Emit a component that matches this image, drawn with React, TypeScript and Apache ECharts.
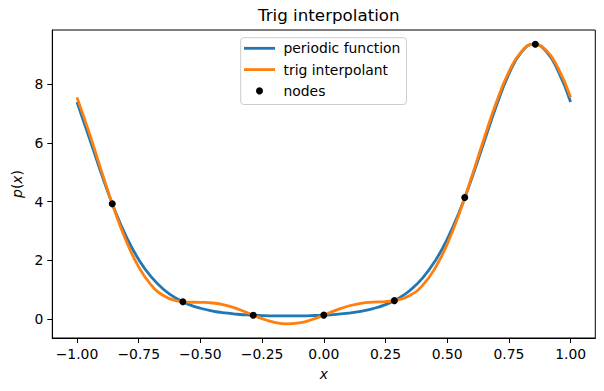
import React, { useEffect, useRef } from "react";
import * as echarts from "echarts";

// sample positions along x
const xSamples = [
  -1, -0.95, -0.9, -0.85, -0.8, -0.75, -0.7, -0.65, -0.6, -0.55, -0.5, -0.45, -0.4, -0.35,
  -0.3, -0.25, -0.2, -0.15, -0.1, -0.05, 0, 0.05, 0.1, 0.15, 0.2, 0.25, 0.3, 0.35, 0.4,
  0.45, 0.5, 0.55, 0.6, 0.65, 0.7, 0.75, 0.8, 0.85, 0.9, 0.95, 1,
];

// periodic function values
const periodicValues = [
  7.389, 6.166, 4.919, 3.774, 2.802, 2.028, 1.443, 1.017, 0.717, 0.509, 0.368, 0.272, 0.208,
  0.165, 0.137, 0.12, 0.11, 0.107, 0.11, 0.119, 0.135, 0.162, 0.203, 0.265, 0.357, 0.493,
  0.693, 0.983, 1.395, 1.964, 2.718, 3.672, 4.802, 6.043, 7.277, 8.342, 9.077, 9.356, 9.126,
  8.43, 7.389,
];

// trig interpolant values
const interpValues = [
  7.546, 6.33, 5.02, 3.755, 2.648, 1.776, 1.166, 0.801, 0.629, 0.576, 0.569, 0.547, 0.475,
  0.346, 0.181, 0.015, -0.111, -0.165, -0.133, -0.023, 0.135, 0.304, 0.446, 0.537, 0.578,
  0.597, 0.651, 0.81, 1.148, 1.721, 2.552, 3.621, 4.861, 6.164, 7.395, 8.414, 9.096, 9.355,
  9.158, 8.529, 7.546,
];

// interpolation nodes
const nodeX = [-0.857, -0.571, -0.286, 0, 0.286, 0.571, 0.857];
const nodeY = [3.928, 0.589, 0.132, 0.135, 0.628, 4.137, 9.355];

// tick labels
const xTicks = [-1, -0.75, -0.5, -0.25, 0, 0.25, 0.5, 0.75, 1];
const yTicks = [0, 2, 4, 6, 8];

const FONT = "DejaVu Sans";
const LINE_ICON = "path://M0,0L31,0L31,2.8L0,2.8Z";

function fmtX(v: number) {
  const s = Math.abs(v).toFixed(2);
  return v < 0 ? "\u2212" + s : s;
}
function fmtY(v: number) {
  const s = String(Math.abs(v));
  return v < 0 ? "\u2212" + s : s;
}

export default function App() {
  const ref = useRef<HTMLDivElement>(null);
  useEffect(() => {
    if (!ref.current) return;
    const chart = echarts.init(ref.current, undefined, { renderer: "svg" });
    const italic = { fontStyle: "italic", fontSize: 13.9, fontFamily: FONT, color: "#000" };
    const option: any = {
      animation: false,
      backgroundColor: "#fff",
      textStyle: { fontFamily: FONT },
      title: {
        text: "Trig interpolation",
        left: 323.8,
        top: 1,
        textAlign: "center",
        textStyle: { fontSize: 16.7, fontWeight: "normal", color: "#000", fontFamily: FONT },
      },
      legend: {
        orient: "vertical",
        align: "left",
        left: 240.7,
        top: 37.7,
        padding: [3.6, 6, 6.6, 3.3],
        itemWidth: 31,
        itemHeight: 7,
        itemGap: 7.3,
        borderColor: "#cccccc",
        borderWidth: 1,
        borderRadius: 3,
        backgroundColor: "rgba(255,255,255,0.8)",
        selectedMode: false,
        itemStyle: { borderWidth: 0, opacity: 1 },
        textStyle: {
          fontSize: 13.9,
          color: "#000",
          fontFamily: FONT,
          lineHeight: 14,
          padding: [0, 0, 0, 3.5],
        },
        data: [
          { name: "periodic function", icon: LINE_ICON },
          { name: "trig interpolant", icon: LINE_ICON },
          { name: "nodes", icon: "circle" },
        ],
      },
      grid: {
        left: 52.3,
        right: 8.7,
        top: 30,
        bottom: 53,
        show: true,
        borderColor: "#000",
        borderWidth: 1,
        backgroundColor: "transparent",
      },
      xAxis: {
        type: "value",
        min: -1.1,
        max: 1.1,
        name: "{i|x}",
        nameLocation: "middle",
        nameGap: 29,
        nameTextStyle: { fontSize: 13.9, color: "#000", fontFamily: FONT, rich: { i: italic } },
        axisLine: { show: true, onZero: false, lineStyle: { color: "#000", width: 1 } },
        axisTick: {
          show: true,
          inside: false,
          length: 5,
          lineStyle: { color: "#000", width: 1 },
          customValues: xTicks,
        },
        axisLabel: {
          show: true,
          margin: 9,
          fontSize: 13.9,
          color: "#000",
          fontFamily: FONT,
          customValues: xTicks,
          formatter: fmtX,
        },
        splitLine: { show: false },
      },
      yAxis: {
        type: "value",
        min: -0.644,
        max: 9.84,
        name: "{i|p}({i|x})",
        nameLocation: "middle",
        nameGap: 28,
        nameTextStyle: { fontSize: 13.9, color: "#000", fontFamily: FONT, rich: { i: italic } },
        axisLine: { show: true, onZero: false, lineStyle: { color: "#000", width: 1 } },
        axisTick: {
          show: true,
          inside: false,
          length: 5,
          lineStyle: { color: "#000", width: 1 },
          customValues: yTicks,
        },
        axisLabel: {
          show: true,
          margin: 9,
          fontSize: 13.9,
          color: "#000",
          fontFamily: FONT,
          customValues: yTicks,
          formatter: fmtY,
        },
        splitLine: { show: false },
      },
      series: [
        {
          name: "periodic function",
          type: "line",
          data: xSamples.map((x, i) => [x, periodicValues[i]]),
          smooth: true,
          symbol: "none",
          lineStyle: { color: "#1f77b4", width: 2.8 },
          itemStyle: { color: "#1f77b4" },
          z: 2,
        },
        {
          name: "trig interpolant",
          type: "line",
          data: xSamples.map((x, i) => [x, interpValues[i]]),
          smooth: true,
          symbol: "none",
          lineStyle: { color: "#ff7f0e", width: 2.8 },
          itemStyle: { color: "#ff7f0e" },
          z: 3,
        },
        {
          name: "nodes",
          type: "scatter",
          data: nodeX.map((x, i) => [x, nodeY[i]]),
          symbol: "circle",
          symbolSize: 7,
          itemStyle: { color: "#000", opacity: 1 },
          z: 4,
        },
      ],
    };
    chart.setOption(option);
    return () => chart.dispose();
  }, []);
  return (
    <div
      ref={ref}
      style={{ position: "absolute", left: 0, top: 0, width: 604, height: 391 }}
    />
  );
}
